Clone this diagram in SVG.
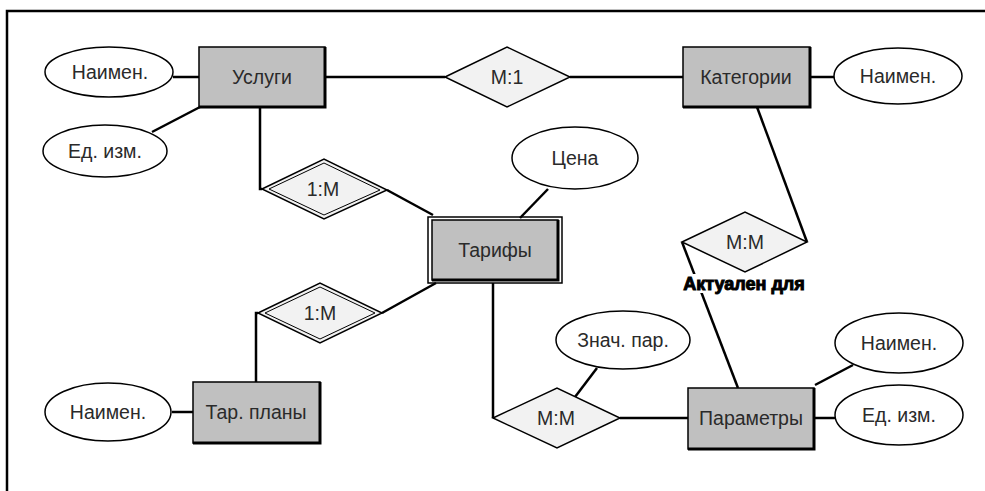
<svg xmlns="http://www.w3.org/2000/svg" width="985" height="491" viewBox="0 0 985 491">
<style>
.ent{fill:#c0c0c0;stroke:#000;stroke-width:1.5}
.shadow{fill:none;stroke:#000;stroke-width:3}
.attr{fill:#fff;stroke:#000;stroke-width:1.5}
.rel{fill:#f2f2f2;stroke:#000;stroke-width:1.5}
.lbl{font-family:"Liberation Sans",Arial,sans-serif;font-size:19.5px;fill:#2a2a2a;text-anchor:middle;dominant-baseline:central}
.con{fill:none;stroke:#000;stroke-width:2.5}
.frame{fill:none;stroke:#000;stroke-width:2.5}
</style>
<rect width="985" height="491" fill="#fff"/>
<polyline class="frame" points="7,491 7,11 985,11"/>
<g id="connectors">
<line class="con" x1="173" y1="77" x2="199" y2="77"/>
<line class="con" x1="152" y1="132" x2="200" y2="107"/>
<line class="con" x1="325" y1="77" x2="445" y2="77"/>
<line class="con" x1="570" y1="77" x2="683" y2="77"/>
<line class="con" x1="810" y1="77" x2="834" y2="77"/>
<polyline class="con" points="260,107 260,189 262,189"/>
<line class="con" x1="387" y1="190" x2="433" y2="215"/>
<line class="con" x1="548" y1="189" x2="520" y2="218"/>
<line class="con" x1="382" y1="313" x2="436" y2="283"/>
<polyline class="con" points="256,382 256,313 258,313"/>
<line class="con" x1="172" y1="412" x2="193" y2="412"/>
<polyline class="con" points="493,283 493,418"/>
<line class="con" x1="597" y1="368" x2="575" y2="397"/>
<line class="con" x1="620" y1="418" x2="688" y2="418"/>
<line class="con" x1="757" y1="107" x2="807" y2="242"/>
<line class="con" x1="682" y1="242" x2="738" y2="388"/>
<line class="con" x1="815" y1="385" x2="853" y2="365"/>
<line class="con" x1="814" y1="418" x2="835" y2="418"/>
</g>
<g id="uslugi">
<rect class="ent" x="199" y="47" width="126" height="60"/>
<polyline class="shadow" points="325,47 325,107 199,107"/>
<text class="lbl" x="262" y="77">Услуги</text>
</g>
<g id="uslugi-naimen">
<ellipse class="attr" cx="109" cy="72" rx="64" ry="25"/>
<text class="lbl" x="110" y="72">Наимен.</text>
</g>
<g id="uslugi-ed">
<ellipse class="attr" cx="105" cy="151" rx="62" ry="26"/>
<text class="lbl" x="105" y="151">Ед. изм.</text>
</g>
<g id="rel-m1">
<polygon class="rel" points="445,77 507,47 570,77 507,107"/>
<text class="lbl" x="507" y="77">М:1</text>
</g>
<g id="kategorii">
<rect class="ent" x="683" y="47" width="127" height="60"/>
<polyline class="shadow" points="810,47 810,107 683,107"/>
<text class="lbl" x="746" y="77">Категории</text>
</g>
<g id="kategorii-naimen">
<ellipse class="attr" cx="898" cy="76" rx="64" ry="28"/>
<text class="lbl" x="898" y="76">Наимен.</text>
</g>
<g id="rel-1m-top">
<polygon class="rel" points="262,189 324,159 387,190 324,219" stroke-width="1.2"/>
<polygon fill="none" stroke="#000" stroke-width="1" points="269,189 324,163 380,190 324,215"/>
<text class="lbl" x="323" y="189">1:М</text>
</g>
<g id="cena">
<ellipse class="attr" cx="575" cy="158" rx="63" ry="31"/>
<text class="lbl" x="575" y="158">Цена</text>
</g>
<g id="tarify">
<rect fill="none" stroke="#000" stroke-width="1.5" x="428" y="217" width="134" height="66"/>
<rect class="ent" x="432" y="220" width="126" height="60"/>
<polyline class="shadow" points="558,220 558,280 432,280"/>
<text class="lbl" x="495" y="250">Тарифы</text>
</g>
<g id="rel-1m-bottom">
<polygon class="rel" points="258,313 320,283 382,313 320,343" stroke-width="1.2"/>
<polygon fill="none" stroke="#000" stroke-width="1" points="265,313 320,287 375,313 320,339"/>
<text class="lbl" x="320" y="313">1:М</text>
</g>
<g id="tarplany">
<rect class="ent" x="193" y="382" width="127" height="61"/>
<polyline class="shadow" points="320,382 320,443 193,443"/>
<text class="lbl" x="256" y="412">Тар. планы</text>
</g>
<g id="tarplany-naimen">
<ellipse class="attr" cx="108" cy="412" rx="63" ry="29"/>
<text class="lbl" x="108" y="412">Наимен.</text>
</g>
<g id="rel-mm-bottom">
<polygon class="rel" points="493,418 557,388 620,418 557,448"/>
<text class="lbl" x="556" y="418">М:М</text>
</g>
<g id="znach">
<ellipse class="attr" cx="623" cy="340" rx="67" ry="29"/>
<text class="lbl" x="623" y="340">Знач. пар.</text>
</g>
<g id="rel-mm-top">
<polygon class="rel" points="682,242 745,212 807,242 745,272"/>
<text class="lbl" x="745" y="242">М:М</text>
<rect x="678" y="274" width="132" height="19" fill="#fff"/>
<text x="744" y="284" font-family="'Liberation Sans',Arial,sans-serif" font-size="18" font-weight="bold" fill="#000" stroke="#000" stroke-width="1" text-anchor="middle" dominant-baseline="central">Актуален для</text>
</g>
<g id="parametry">
<rect class="ent" x="688" y="388" width="126" height="61"/>
<polyline class="shadow" points="814,388 814,449 688,449"/>
<text class="lbl" x="751" y="418">Параметры</text>
</g>
<g id="param-naimen">
<ellipse class="attr" cx="899" cy="343" rx="64" ry="30"/>
<text class="lbl" x="899" y="343">Наимен.</text>
</g>
<g id="param-ed">
<ellipse class="attr" cx="899" cy="415" rx="64" ry="30"/>
<text class="lbl" x="899" y="415">Ед. изм.</text>
</g>
</svg>
